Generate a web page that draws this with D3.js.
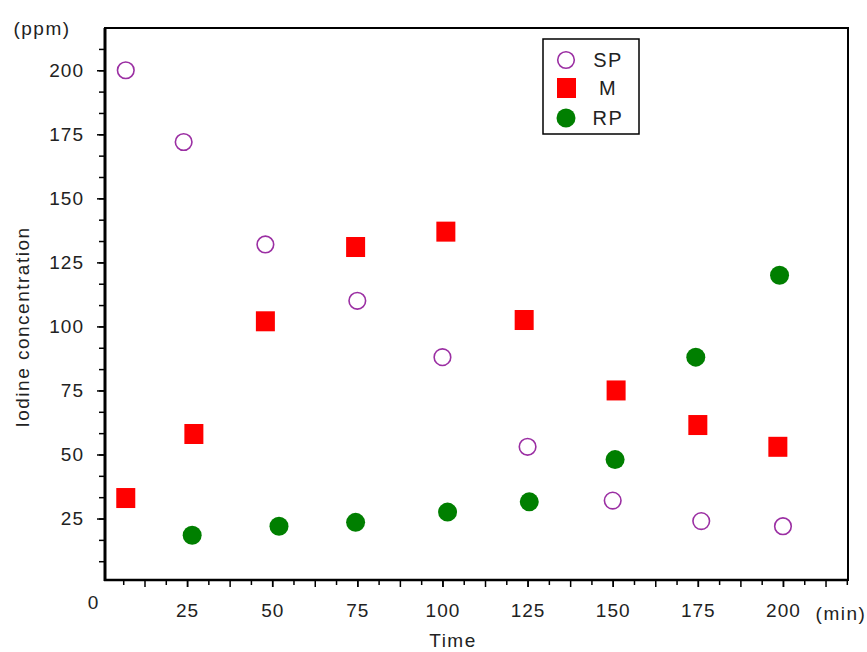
<!DOCTYPE html>
<html>
<head>
<meta charset="utf-8">
<script src="https://cdn.jsdelivr.net/npm/d3@7"></script>
<style>
  body { margin: 0; background: #fff; }
  svg text { font-family: "Liberation Sans", Arial, sans-serif; fill: #222; }
</style>
</head>
<body>
<svg width="867" height="652"></svg>
<script>
// data
var seriesNames = ['SP', 'M', 'RP'];
var spTime = [7, 24, 48, 75, 100, 125, 150, 176, 200];
var spConc = [200, 172, 132, 110, 88, 53, 32, 24, 22];
var mTime = [7, 27, 48, 74.5, 101, 124, 151, 175, 198.5];
var mConc = [33, 58, 102, 131, 137, 102.5, 75, 61.5, 53];
var rpTime = [26.5, 52, 74.5, 101.5, 125.5, 150.7, 174.4, 199];
var rpConc = [18.5, 22, 23.5, 27.5, 31.5, 48, 88, 120];
var xTickLabels = [25, 50, 75, 100, 125, 150, 175, 200];
var yTickLabels = [25, 50, 75, 100, 125, 150, 175, 200];

var svg = d3.select('svg');

var x = d3.scaleLinear().domain([0.9, 219.1]).range([105, 848]);
var y = d3.scaleLinear().domain([1, 216.5]).range([580, 28]);

// frame
svg.append('rect')
  .attr('x', 105).attr('y', 28)
  .attr('width', 743).attr('height', 552)
  .attr('fill', 'none').attr('stroke', '#000').attr('stroke-width', 2);

// y ticks: minor every 25/3, labelled every 25
var yMinor = d3.range(1, 26).map(function(i) { return i * 25 / 3; }).filter(function(v) { return v < 216; });
svg.append('g').attr('transform', 'translate(105,0)')
  .call(d3.axisLeft(y).tickValues(yMinor).tickSize(6).tickFormat(''));
svg.append('g').attr('transform', 'translate(105,0)')
  .call(d3.axisLeft(y).tickValues(yTickLabels).tickSize(8).tickPadding(13));

// x ticks: every 6.25, longer at 12.5
var xMinor = d3.range(1, 36).map(function(i) { return i * 6.25; }).filter(function(v) { return v < 219; });
svg.append('g').attr('transform', 'translate(0,580)')
  .call(d3.axisBottom(x).tickValues(xMinor.filter(function(v, i) { return i % 2 == 0; })).tickSize(5).tickFormat(''));
svg.append('g').attr('transform', 'translate(0,580)')
  .call(d3.axisBottom(x).tickValues(xMinor.filter(function(v, i) { return i % 2 == 1; })).tickSize(7).tickFormat(''));
svg.append('g').attr('transform', 'translate(0,580)')
  .call(d3.axisBottom(x).tickValues(xTickLabels).tickSize(7).tickPadding(17));

svg.selectAll('.domain').remove();
svg.selectAll('.tick line').attr('stroke', '#000').attr('stroke-width', 1.5);
svg.selectAll('.tick text')
  .style('font-size', '19px')
  .style('letter-spacing', '1px')
  .attr('fill', '#222');

// heavy left and bottom axis lines
svg.append('line').attr('x1', 105).attr('x2', 105).attr('y1', 28).attr('y2', 581)
  .attr('stroke', '#000').attr('stroke-width', 3);
svg.append('line').attr('x1', 104).attr('x2', 848).attr('y1', 580).attr('y2', 580)
  .attr('stroke', '#000').attr('stroke-width', 2.5);

// axis captions
svg.append('text').attr('x', 93).attr('y', 609).attr('text-anchor', 'middle')
  .style('font-size', '19px').text('0');
svg.append('text').attr('x', 42).attr('y', 35).attr('text-anchor', 'middle')
  .style('font-size', '19px').style('letter-spacing', '1.5px').text('(ppm)');
svg.append('text').attr('x', 841).attr('y', 620).attr('text-anchor', 'middle')
  .style('font-size', '19px').style('letter-spacing', '1.5px').text('(min)');
svg.append('text').attr('x', 453).attr('y', 647).attr('text-anchor', 'middle')
  .style('font-size', '19px').style('letter-spacing', '1.5px').text('Time');
svg.append('text')
  .attr('transform', 'translate(29,327) rotate(-90)')
  .attr('text-anchor', 'middle')
  .style('font-size', '19px').style('letter-spacing', '1.5px')
  .text('Iodine concentration');

// points
var sp = spTime.map(function(t, i) { return {t: t, c: spConc[i]}; });
var m = mTime.map(function(t, i) { return {t: t, c: mConc[i]}; });
var rp = rpTime.map(function(t, i) { return {t: t, c: rpConc[i]}; });

svg.append('g').selectAll('circle').data(sp).enter().append('circle')
  .attr('cx', function(d) { return x(d.t); })
  .attr('cy', function(d) { return y(d.c); })
  .attr('r', 8.3)
  .attr('fill', 'none').attr('stroke', '#9b2fa3').attr('stroke-width', 1.6);

svg.append('g').selectAll('rect').data(m).enter().append('rect')
  .attr('x', function(d) { return x(d.t) - 9.5; })
  .attr('y', function(d) { return y(d.c) - 10; })
  .attr('width', 19).attr('height', 20)
  .attr('fill', '#ff0000');

svg.append('g').selectAll('circle').data(rp).enter().append('circle')
  .attr('cx', function(d) { return x(d.t); })
  .attr('cy', function(d) { return y(d.c); })
  .attr('r', 9.5)
  .attr('fill', '#007f00');

// legend
var lg = svg.append('g');
lg.append('rect').attr('x', 543).attr('y', 39).attr('width', 96).attr('height', 95)
  .attr('fill', '#fff').attr('stroke', '#000').attr('stroke-width', 1.5);
var legendY = [60, 88, 118];
seriesNames.forEach(function(name, i) {
  var cy = legendY[i];
  if (i == 0) {
    lg.append('circle').attr('cx', 566).attr('cy', cy).attr('r', 8.3)
      .attr('fill', 'none').attr('stroke', '#9b2fa3').attr('stroke-width', 1.6);
  } else if (i == 1) {
    lg.append('rect').attr('x', 557).attr('y', cy - 10).attr('width', 19).attr('height', 20)
      .attr('fill', '#ff0000');
  } else {
    lg.append('circle').attr('cx', 566).attr('cy', cy).attr('r', 9.5).attr('fill', '#007f00');
  }
  lg.append('text').attr('x', 608).attr('y', cy + 7).attr('text-anchor', 'middle')
    .style('font-size', '20px').style('letter-spacing', '1.5px').text(name);
});
</script>
</body>
</html>
